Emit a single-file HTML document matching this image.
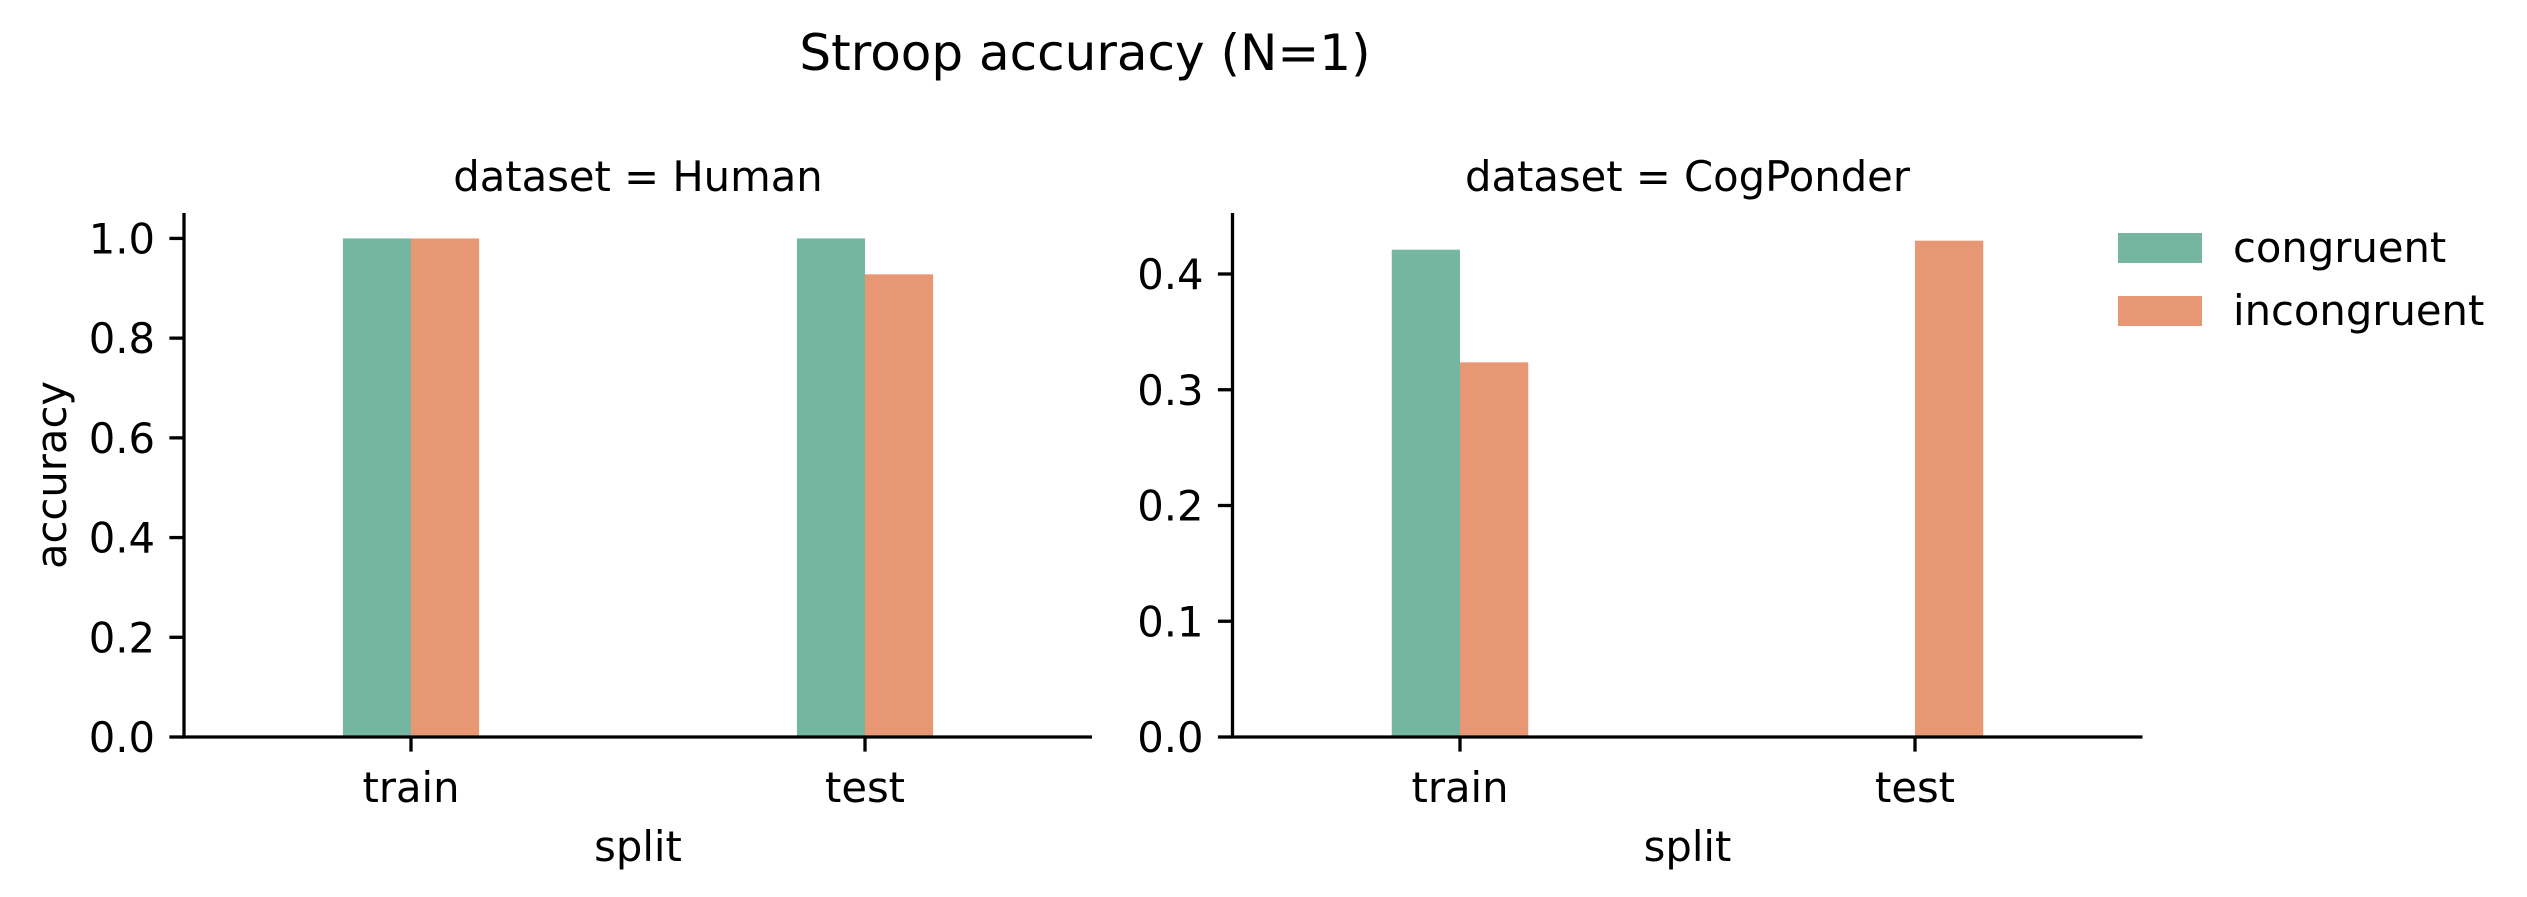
<!DOCTYPE html>
<html><head><meta charset="utf-8"><style>
html,body{margin:0;padding:0;background:#fff;}
svg{display:block;font-family:"DejaVu Sans","Liberation Sans",sans-serif;}
</style></head><body>
<svg id="chart" width="2527" height="897" viewBox="0 0 2527 897" xmlns="http://www.w3.org/2000/svg">
<rect width="2527" height="897" fill="#fff"/>
<text x="1085" y="70" font-size="50" text-anchor="middle">Stroop accuracy (N=1)</text>
<g id="panels"></g>
<g>
  <rect x="2118" y="233" width="84" height="30" fill="#74b6a0"/>
  <text x="2233" y="262" font-size="41.7">congruent</text>
  <rect x="2118" y="296" width="84" height="30" fill="#e89775"/>
  <text x="2233" y="325" font-size="41.7">incongruent</text>
</g>
</svg>
<script>
const categories = ["train", "test"];
const series = ["congruent", "incongruent"];
const humanCongruent = [1.0, 1.0];
const humanIncongruent = [1.0, 0.928];
const cogCongruent = [0.421, 0.0];
const cogIncongruent = [0.3237, 0.4288];
const humanTicks = [0.0, 0.2, 0.4, 0.6, 0.8, 1.0];
const cogTicks = [0.0, 0.1, 0.2, 0.3, 0.4];
const colors = ["#74b6a0", "#e89775"];

const NS = "http://www.w3.org/2000/svg";
const panelRoot = document.getElementById("panels");
function mk(tag, attrs, parent){
  const e = document.createElementNS(NS, tag);
  for (const k in attrs) e.setAttribute(k, attrs[k]);
  parent.appendChild(e);
  return e;
}
const panels = [
  {name:"human", title:"dataset = Human", left:184, right:1092, ymax:1.051, ticks:humanTicks, fmt:1, vals:[humanCongruent, humanIncongruent], ylabel:true},
  {name:"cogponder", title:"dataset = CogPonder", left:1232.5, right:2142.5, ymax:0.4527, ticks:cogTicks, fmt:1, vals:[cogCongruent, cogIncongruent], ylabel:false}
];
const yTop = 213, yBottom = 737;
panels.forEach(p => {
  const g = mk("g", {}, panelRoot);
  
  
  const xs = v => p.left + (v + 0.5) / 2 * (p.right - p.left);
  const ys = v => yBottom - v / p.ymax * (yBottom - yTop);
  const unit = (p.right - p.left) / 2;
  const bw = unit * 0.15;
  p.vals.forEach((arr, si) => {
    arr.forEach((v, ci) => {
      if (v <= 0) return;
      const x0 = xs(ci) + (si === 0 ? -bw : 0);
      const r = mk("rect", {x:x0, y:ys(v), width:bw, height:ys(0)-ys(v), fill:colors[si]}, g);
      
      
    });
  });
  const ya = mk("line", {x1:p.left, x2:p.left, y1:yTop, y2:yBottom, stroke:"#000", "stroke-width":3.3}, g);
  
  
  const xa = mk("line", {x1:p.left-1.6, x2:p.right, y1:yBottom, y2:yBottom, stroke:"#000", "stroke-width":3.3}, g);
  
  
  p.ticks.forEach(t => {
    mk("line", {x1:p.left-14.6, x2:p.left, y1:ys(t), y2:ys(t), stroke:"#000", "stroke-width":3.3}, g);
    const tl = mk("text", {x:p.left-29, y:ys(t)+15, "font-size":41.7, "text-anchor":"end"}, g);
    tl.textContent = t.toFixed(p.fmt);
    
    
  });
  categories.forEach((c, ci) => {
    mk("line", {x1:xs(ci), x2:xs(ci), y1:yBottom, y2:yBottom+14.6, stroke:"#000", "stroke-width":3.3}, g);
    const tl = mk("text", {x:xs(ci), y:802, "font-size":41.7, "text-anchor":"middle"}, g);
    tl.textContent = c;
    
    
  });
  const xl = mk("text", {x:(p.left+p.right)/2, y:861, "font-size":41.7, "text-anchor":"middle"}, g);
  xl.textContent = "split";
  
  
  const st = mk("text", {x:(p.left+p.right)/2, y:191, "font-size":41.7, "text-anchor":"middle"}, g);
  st.textContent = p.title;
  
  
  if (p.ylabel) {
    const yl = mk("text", {x:0, y:0, "font-size":41.7, "text-anchor":"middle", transform:"translate(66," + ((yTop+yBottom)/2) + ") rotate(-90)"}, g);
    yl.textContent = "accuracy";
    
    
  }
});
</script>
</body></html>
